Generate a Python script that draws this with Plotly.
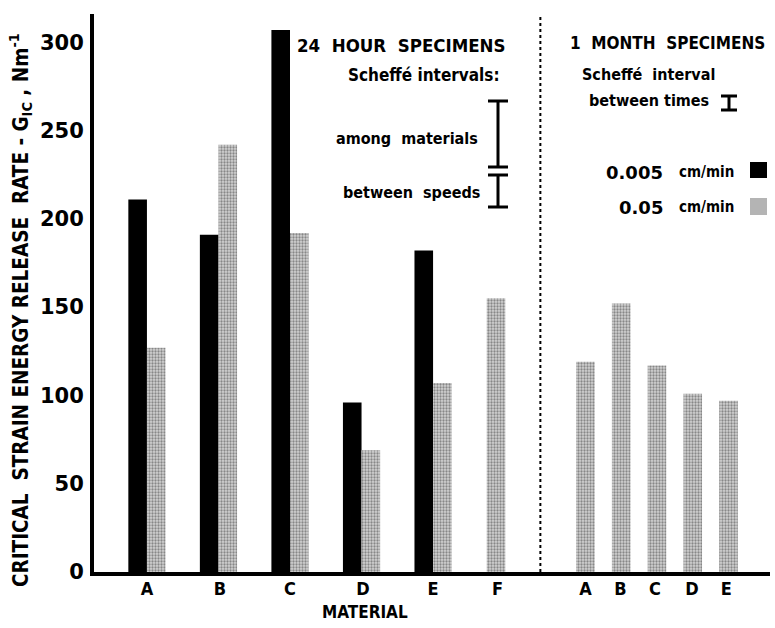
import plotly.graph_objects as go

# ---------------- data ----------------
materials_24h = ["A", "B", "C", "D", "E", "F"]
materials_1m = ["A", "B", "C", "D", "E"]
g_slow_24h = [211, 191, 307, 96, 182]          # 0.005 cm/min, A-E
g_fast_24h = [127, 242, 192, 69, 107, 155]     # 0.05 cm/min, A-F
g_fast_1m = [119, 152, 117, 101, 97]           # 0.05 cm/min, 1 month A-E
y_ticks = [0, 50, 100, 150, 200, 250, 300]
scheffe_among_materials = 37.4
scheffe_between_speeds = 18.1
scheffe_between_times = 7.9

# ---------------- layout helpers ----------------
W, H = 775, 628
L, R, T, B = 94, 770, 14, 572
XMIN, XMAX = -0.74, 8.71
YMAX = 316

def pxx(x):
    return (x - L) / (R - L)

def pxy(y):
    return (B - y) / (B - T)

def dx(x):
    return XMIN + (x - L) / (R - L) * (XMAX - XMIN)

def dy(y):
    return (B - y) / (B - T) * YMAX

bw = 0.26
off = 0.13
pos_24 = list(range(5))
pos_F = 4.88
pos_1m = [6.13 + 0.5 * i for i in range(5)]

NARROW = "Liberation Sans Narrow, DejaVu Sans Condensed, DejaVu Sans, sans-serif"
HEAVY = "DejaVu Sans, Arial Black, sans-serif"

stipple = dict(shape=".", fgcolor="#3c3c3c", bgcolor="#d2d2d2", size=3, solidity=0.45)

fig = go.Figure()
fig.add_trace(go.Bar(x=[p - off for p in pos_24], y=g_slow_24h, width=bw,
                     marker=dict(color="black", line=dict(width=0)), showlegend=False))
fig.add_trace(go.Bar(x=[p + off for p in pos_24] + [pos_F], y=g_fast_24h, width=bw,
                     marker=dict(color="#d2d2d2", pattern=stipple, line=dict(width=0)),
                     showlegend=False))
fig.add_trace(go.Bar(x=pos_1m, y=g_fast_1m, width=bw,
                     marker=dict(color="#d2d2d2", pattern=stipple, line=dict(width=0)),
                     showlegend=False))

# Scheffé interval keys
keys = [
    (dx(498), dy(134), scheffe_among_materials / 2, 10),
    (dx(498), dy(191), scheffe_between_speeds / 2, 10),
    (dx(729), dy(103), scheffe_between_times / 2, 8),
]
for kx, ky, half, cap in keys:
    fig.add_trace(go.Scatter(x=[kx], y=[ky], mode="markers",
                             marker=dict(size=1, color="rgba(0,0,0,0)"),
                             error_y=dict(type="data", array=[half], symmetric=True,
                                          thickness=3, width=cap, color="black"),
                             showlegend=False, hoverinfo="skip"))

tickvals = [0, 1.02, 2.0, 3.02, 4.0, 4.9] + [6.13, 6.62, 7.10, 7.62, 8.10]
ticktext = materials_24h + materials_1m

fig.update_layout(
    width=W, height=H,
    margin=dict(l=L, r=W - R, t=T, b=H - B),
    plot_bgcolor="white", paper_bgcolor="white",
    barmode="overlay",
    xaxis=dict(range=[XMIN, XMAX], tickvals=tickvals, ticktext=ticktext,
               showgrid=False, zeroline=False, showline=True, linewidth=4, linecolor="black",
               ticks="", ticklabelstandoff=-3,
               tickfont=dict(family=NARROW, size=18, color="black", weight="bold")),
    yaxis=dict(range=[0, YMAX], tickvals=y_ticks, showgrid=False, zeroline=False,
               showline=True, linewidth=4, linecolor="black", ticks="", ticklabelstandoff=2,
               tickfont=dict(family=HEAVY, size=21, color="black", weight="bold")),
)

fig.add_shape(type="line", xref="x", yref="paper", x0=5.5, x1=5.5, y0=0, y1=1,
              line=dict(color="black", width=2, dash="dot"))

# legend swatches
fig.add_shape(type="rect", xref="paper", yref="paper", x0=pxx(750), x1=pxx(767),
              y0=pxy(178), y1=pxy(162), fillcolor="black", line=dict(width=0))
fig.add_shape(type="rect", xref="paper", yref="paper", x0=pxx(750), x1=pxx(767),
              y0=pxy(215), y1=pxy(198), fillcolor="#b4b4b4", line=dict(width=0))

def ann(text, x, y, anchor="left", size=17, family=NARROW, angle=0):
    fig.add_annotation(text=text, xref="paper", yref="paper", x=pxx(x), y=pxy(y),
                       xanchor=anchor, yanchor="middle", showarrow=False, textangle=angle,
                       font=dict(family=family, size=size, color="black", weight="bold"))

S = "\u00a0"
ann("24" + S * 2 + "HOUR" + S * 2 + "SPECIMENS", 295, 45, "left", 18.5)
ann("Scheffé" + S + "intervals:", 502, 75, "right", 17)
ann("among" + S * 2 + "materials", 480, 138, "right", 16)
ann("between" + S * 2 + "speeds", 482, 192, "right", 16)
ann("1" + S * 2 + "MONTH" + S * 2 + "SPECIMENS", 767, 43, "right", 17)
ann("Scheffé" + S * 2 + "interval", 580, 75, "left", 16)
ann("between" + S + "times", 587, 100, "left", 16)
ann("0.005", 665, 172, "right", 18, HEAVY)
ann("cm/min", 677, 172, "left", 15)
ann("0.05", 665, 207, "right", 18, HEAVY)
ann("cm/min", 677, 207, "left", 15)
ann("MATERIAL", 365, 612, "center", 17)
ann("CRITICAL" + S * 2 + "STRAIN" + S + "ENERGY" + S + "RELEASE" + S * 2 + "RATE" + S + "-" + S
    + "G<sub>IC</sub>" + S + "," + S + "Nm<sup>-1</sup>", 20, 310, "center", 20.5, NARROW, -90)

fig.write_html("out.html", config={"displayModeBar": False},
               post_script="document.body.style.margin='0px';")
